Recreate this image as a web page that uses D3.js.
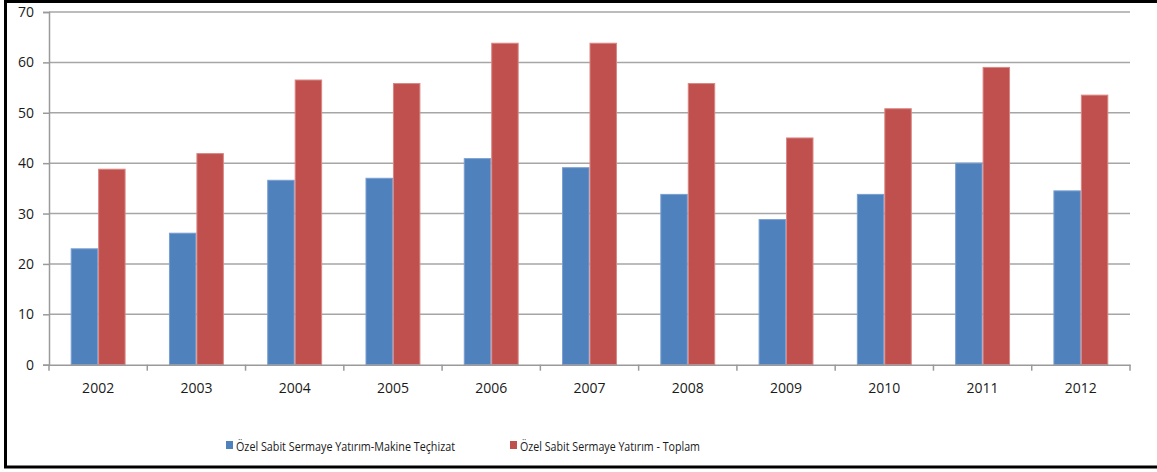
<!DOCTYPE html>
<html>
<head>
<meta charset="utf-8">
<script src="https://cdn.jsdelivr.net/npm/d3@7"></script>
<style>
  body { margin: 0; background: #fff; }
  svg { display: block; }
  text { font-family: "Open Sans", "DejaVu Sans", sans-serif; fill: #1a1a1a; }
</style>
</head>
<body>
<svg id="chart" width="1157" height="472"></svg>
<script>
// data
const years = ['2002', '2003', '2004', '2005', '2006', '2007', '2008', '2009', '2010', '2011', '2012'];
const makineTechizat = [23.0, 26.1, 36.6, 37.0, 40.9, 39.1, 33.8, 28.8, 33.8, 40.0, 34.5];
const toplam = [38.8, 41.9, 56.5, 55.8, 63.8, 63.8, 55.8, 45.0, 50.8, 59.0, 53.5];
const seriesNames = ['Özel Sabit Sermaye Yatırım-Makine Teçhizat', 'Özel Sabit Sermaye Yatırım - Toplam'];
const yTicks = [0, 10, 20, 30, 40, 50, 60, 70];

const colors = ['#4F81BD', '#C0504D'];
const edges = ['#7a9fd0', '#d98683'];

const svg = d3.select('#chart');
const W = 1157, H = 472;

// outer frame
svg.append('rect')
  .attr('x', 5.5).attr('y', 1.5)
  .attr('width', W + 10).attr('height', 465.5)
  .attr('fill', '#fff').attr('stroke', '#000').attr('stroke-width', 3);

const plot = { left: 49, right: 1130, top: 12, bottom: 364.7 };

const x = d3.scaleBand().domain(years).range([plot.left, plot.right]).paddingInner(0).paddingOuter(0);
const inner = d3.scaleBand().domain([0, 1]).range([0, x.bandwidth()]).paddingInner(0).paddingOuter(0.79);
const y = d3.scaleLinear().domain([0, 70]).range([plot.bottom, plot.top]);

// gridlines
svg.append('g').selectAll('line').data(yTicks.filter(d => d > 0)).enter().append('line')
  .attr('x1', plot.left).attr('x2', plot.right)
  .attr('y1', d => y(d)).attr('y2', d => y(d))
  .attr('stroke', '#a6a6a6').attr('stroke-width', 1.5);

// bars
const groups = svg.append('g').selectAll('g').data(years).enter().append('g')
  .attr('transform', d => `translate(${x(d)},0)`);

[makineTechizat, toplam].forEach((vals, s) => {
  groups.append('rect')
    .attr('x', inner(s) + 0.5)
    .attr('width', inner.bandwidth() - 1)
    .attr('y', (d, i) => y(vals[i]))
    .attr('height', (d, i) => plot.bottom - y(vals[i]))
    .attr('fill', colors[s])
    .attr('stroke', edges[s]).attr('stroke-width', 1);
});

// y axis
const yAxis = svg.append('g')
  .attr('transform', `translate(${plot.left},0)`)
  .call(d3.axisLeft(y).tickValues(yTicks).tickSize(6).tickPadding(9).tickFormat(d3.format('d')));
yAxis.select('.domain').attr('stroke', '#9a9a9a').attr('stroke-width', 1.5);
yAxis.selectAll('.tick line').attr('stroke', '#9a9a9a').attr('stroke-width', 1.5);
yAxis.selectAll('text').attr('font-size', 14).style('font-family', '"Open Sans", sans-serif').attr('fill', '#1a1a1a');

// x axis
const xAxis = svg.append('g')
  .attr('transform', `translate(0,${plot.bottom})`)
  .call(d3.axisBottom(x).tickSize(0).tickPadding(18));
xAxis.select('.domain').attr('stroke', '#9a9a9a').attr('stroke-width', 1.5);
xAxis.selectAll('text').attr('font-size', 14).attr('fill', '#1a1a1a');
// category dividers
xAxis.append('g').selectAll('line').data(years.concat(['end'])).enter().append('line')
  .attr('x1', (d, i) => plot.left + i * x.bandwidth())
  .attr('x2', (d, i) => plot.left + i * x.bandwidth())
  .attr('y1', 0).attr('y2', 6)
  .attr('stroke', '#9a9a9a').attr('stroke-width', 1.5);

// legend
const legendX = [226, 510];
const legendW = [219, 180];
const legend = svg.append('g').selectAll('g').data(seriesNames).enter().append('g')
  .attr('transform', (d, i) => `translate(${legendX[i]},441)`);
legend.append('rect').attr('width', 7).attr('height', 8)
  .attr('fill', (d, i) => colors[i]);
legend.append('text').attr('x', 10).attr('y', 9.5)
  .attr('font-size', 13.5)
  .attr('textLength', (d, i) => legendW[i])
  .attr('lengthAdjust', 'spacingAndGlyphs')
  .text(d => d);
</script>
</body>
</html>
